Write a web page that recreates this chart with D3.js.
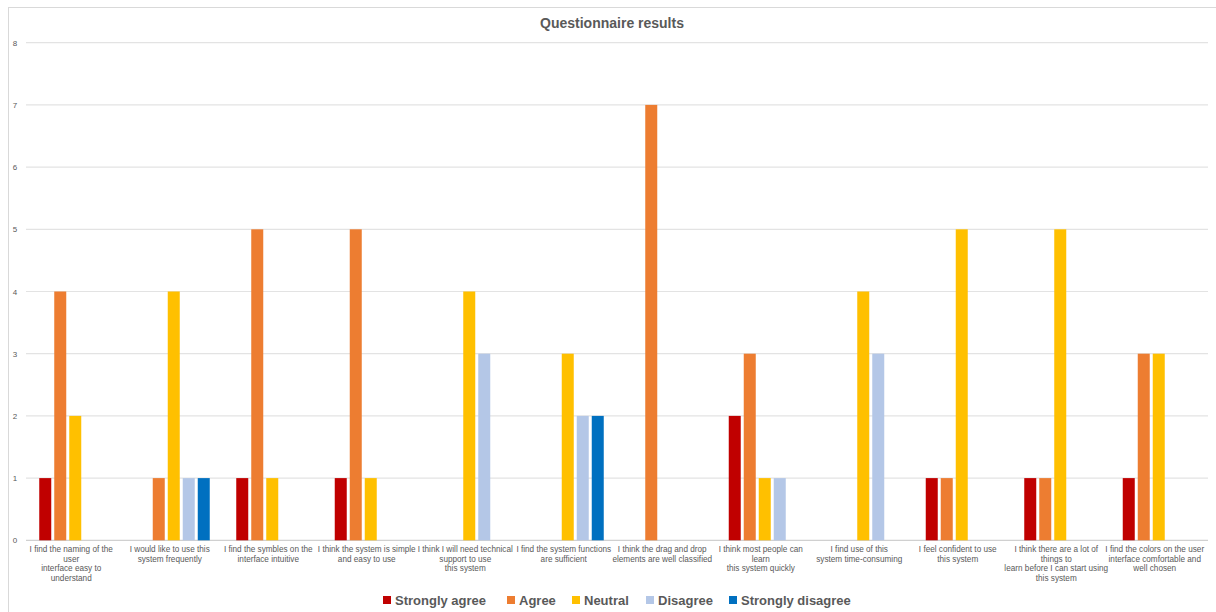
<!DOCTYPE html>
<html>
<head>
<meta charset="utf-8">
<script src="https://cdn.jsdelivr.net/npm/d3@7"></script>
<style>
  html, body { margin: 0; padding: 0; background: #ffffff; }
  svg { display: block; }
</style>
</head>
<body>
<svg id="chart" width="1216" height="612"></svg>
<script>
// Survey statements (category axis), one row of answer counts per response level
const categories = [
  ["I find the naming of the", "user", "interface easy to", "understand"],
  ["I would like to use this", "system frequently"],
  ["I find the symbles on the", "interface intuitive"],
  ["I think the system is simple", "and easy to use"],
  ["I think I will need technical", "support to use", "this system"],
  ["I find the system functions", "are sufficient"],
  ["I think the drag and drop", "elements are well classified"],
  ["I think most people can", "learn", "this system quickly"],
  ["I find use of this", "system time-consuming"],
  ["I feel confident to use", "this system"],
  ["I think there are a lot of", "things to", "learn before I can start using", "this system"],
  ["I find the colors on the user", "interface comfortable and", "well chosen"]
];

const seriesNames = ["Strongly agree", "Agree", "Neutral", "Disagree", "Strongly disagree"];
const seriesColors = ["#C00000", "#ED7D31", "#FFC000", "#B4C7E7", "#0070C0"];

const stronglyAgree    = [1, 0, 1, 1, 0, 0, 0, 2, 0, 1, 1, 1];
const agree            = [4, 1, 5, 5, 0, 0, 7, 3, 0, 1, 1, 3];
const neutral          = [2, 4, 1, 1, 4, 3, 0, 1, 4, 5, 5, 3];
const disagree         = [0, 1, 0, 0, 3, 2, 0, 1, 3, 0, 0, 0];
const stronglyDisagree = [0, 1, 0, 0, 0, 2, 0, 0, 0, 0, 0, 0];

const yTicks = [0, 1, 2, 3, 4, 5, 6, 7, 8];
const title = "Questionnaire results";

const seriesValues = [stronglyAgree, agree, neutral, disagree, stronglyDisagree];

const svg = d3.select("#chart");
const W = 1216, H = 612;
const plot = { left: 26, right: 1208, top: 42.7, bottom: 540.3 };

// Chart frame
svg.append("rect")
  .attr("x", 8.5).attr("y", 7.5)
  .attr("width", W + 20).attr("height", H + 20)
  .attr("fill", "#ffffff")
  .attr("stroke", "#d9d9d9").attr("stroke-width", 1);

const catIdx = d3.range(categories.length);

const x0 = d3.scaleBand()
  .domain(catIdx)
  .range([plot.left, plot.right])
  .paddingInner(0.269)
  .paddingOuter(0.1345);

const x1 = d3.scaleBand()
  .domain(d3.range(seriesNames.length))
  .range([0, x0.bandwidth()])
  .paddingInner(0.2);

const y = d3.scaleLinear()
  .domain([0, 8])
  .range([plot.bottom, plot.top]);

// Horizontal gridlines
svg.append("g")
  .selectAll("line")
  .data(yTicks)
  .join("line")
  .attr("x1", plot.left).attr("x2", plot.right)
  .attr("y1", d => y(d)).attr("y2", d => y(d))
  .attr("stroke", d => d === 0 ? "#d0d0d0" : "#e3e3e3")
  .attr("stroke-width", 1.2);

// Y axis labels
const yAxis = d3.axisLeft(y).tickValues(yTicks).tickSize(0).tickPadding(0);
const yg = svg.append("g")
  .attr("transform", `translate(17,0)`)
  .call(yAxis);
yg.select(".domain").remove();
yg.selectAll("text")
  .attr("fill", "#595959")
  .attr("font-family", "Liberation Sans, Arial, sans-serif")
  .attr("font-size", 8)
  .attr("text-anchor", "middle")
  .attr("dx", -2);

// Bars
const groups = svg.append("g")
  .selectAll("g")
  .data(catIdx)
  .join("g")
  .attr("transform", i => `translate(${x0(i)},0)`);

groups.selectAll("rect")
  .data(i => seriesValues.map((vals, s) => ({ s, v: vals[i] })).filter(d => d.v > 0))
  .join("rect")
  .attr("x", d => x1(d.s))
  .attr("width", x1.bandwidth())
  .attr("y", d => y(d.v))
  .attr("height", d => y(0) - y(d.v))
  .attr("fill", d => seriesColors[d.s]);

// Category labels (wrapped lines)
const labelG = svg.append("g");
catIdx.forEach(i => {
  const cx = x0(i) + x0.bandwidth() / 2 - 4;
  const t = labelG.append("text")
    .attr("x", cx)
    .attr("y", 552)
    .attr("text-anchor", "middle")
    .attr("fill", "#595959")
    .attr("font-family", "Liberation Sans, Arial, sans-serif")
    .attr("font-size", 8.2);
  categories[i].forEach((line, k) => {
    t.append("tspan").attr("x", cx).attr("dy", k === 0 ? 0 : 9.6).text(line);
  });
});

// Title
svg.append("text")
  .attr("x", 612).attr("y", 28)
  .attr("text-anchor", "middle")
  .attr("fill", "#595959")
  .attr("font-family", "Liberation Sans, Arial, sans-serif")
  .attr("font-weight", "bold")
  .attr("font-size", 14)
  .text(title);

// Legend
const legendX = [383, 507, 572, 646, 729];
const legend = svg.append("g");
seriesNames.forEach((name, s) => {
  legend.append("rect")
    .attr("x", legendX[s]).attr("y", 596)
    .attr("width", 8).attr("height", 8)
    .attr("fill", seriesColors[s]);
  legend.append("text")
    .attr("x", legendX[s] + 12).attr("y", 605)
    .attr("fill", "#595959")
    .attr("font-family", "Liberation Sans, Arial, sans-serif")
    .attr("font-weight", "bold")
    .attr("font-size", 13)
    .text(name);
});
</script>
</body>
</html>
